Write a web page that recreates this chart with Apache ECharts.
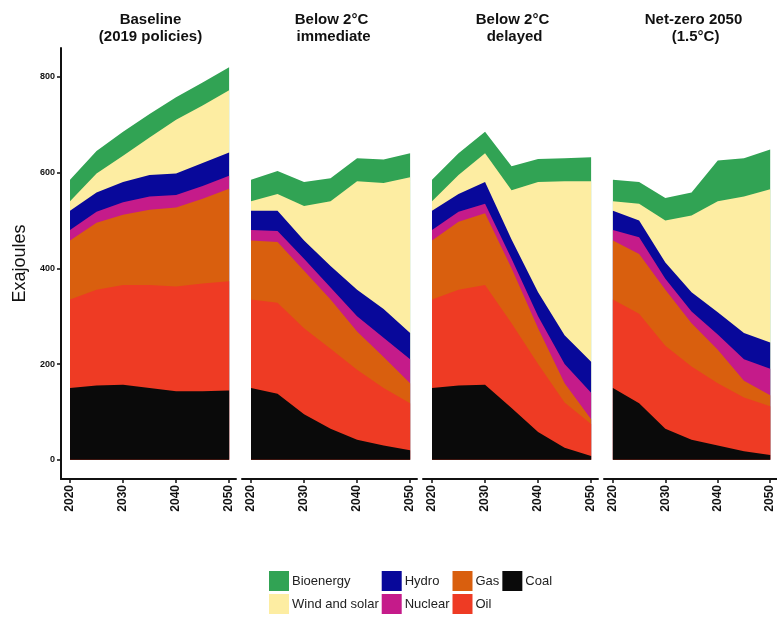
<!DOCTYPE html>
<html>
<head>
<meta charset="utf-8">
<script src="https://cdn.jsdelivr.net/npm/echarts@6/dist/echarts.min.js"></script>
<style>html,body{margin:0;padding:0;background:#fff}#container{width:777px;height:618px}</style>
</head>
<body>
<div id="container"></div>
<script>
var dom = document.getElementById("container");
var myChart = echarts.init(dom);

var years = [2020, 2025, 2030, 2035, 2040, 2045, 2050];
var panelTitles = ["Baseline\n(2019 policies)", "Below 2°C\n immediate", "Below 2°C\n delayed", "Net-zero 2050\n (1.5°C)"];
var sources = ["Coal", "Oil", "Gas", "Nuclear", "Hydro", "Wind and solar", "Bioenergy"];
var colors = ["#0a0a0a", "#ee3b24", "#d95f0e", "#c51b8a", "#08089a", "#fdeda2", "#31a354"];
var legendOrder = ["Bioenergy", "Wind and solar", "Hydro", "Nuclear", "Gas", "Oil", "Coal"];

// values per panel, in order of sources (bottom to top)
var baseline = [
    [150, 155, 157, 150, 143, 143, 145],
    [185, 200, 208, 215, 219, 225, 228],
    [123, 140, 147, 157, 165, 177, 193],
    [22, 23, 26, 28, 26, 27, 27],
    [40, 40, 42, 45, 45, 48, 49],
    [20, 40, 55, 78, 112, 120, 130],
    [45, 47, 50, 49, 47, 48, 48]
];
var immediate = [
    [150, 138, 95, 65, 42, 30, 20],
    [185, 190, 180, 167, 146, 120, 98],
    [123, 127, 120, 103, 80, 65, 42],
    [22, 23, 25, 25, 32, 40, 50],
    [40, 42, 38, 45, 55, 60, 55],
    [20, 35, 72, 135, 227, 263, 325],
    [45, 48, 50, 48, 48, 49, 50]
];
var delayed = [
    [150, 155, 157, 108, 58, 25, 8],
    [185, 200, 208, 177, 142, 95, 67],
    [123, 142, 150, 115, 75, 40, 10],
    [22, 21, 20, 20, 25, 40, 55],
    [40, 37, 45, 40, 50, 60, 65],
    [20, 40, 60, 103, 230, 322, 377],
    [45, 45, 45, 50, 48, 48, 50]
];
var netzero = [
    [150, 118, 65, 42, 30, 18, 10],
    [185, 187, 173, 153, 130, 112, 102],
    [123, 125, 117, 90, 70, 35, 23],
    [22, 35, 23, 25, 32, 45, 55],
    [40, 35, 34, 40, 46, 55, 55],
    [20, 35, 88, 160, 232, 285, 320],
    [45, 45, 47, 48, 85, 80, 83]
];
var panels = [baseline, immediate, delayed, netzero];
var yTicks = [0, 200, 400, 600, 800];
var xTicks = [2020, 2030, 2040, 2050];

var panelLeft = [61, 242, 423, 604];
var panelWidth = 175;

var grids = [], xAxes = [], yAxes = [], series = [], titles = [];
panels.forEach(function (p, i) {
    grids.push({ left: panelLeft[i], top: 48, width: panelWidth, height: 431 });
    titles.push({
        text: panelTitles[i],
        left: panelLeft[i] + panelWidth / 2 - 3,
        top: 6,
        textAlign: "center",
        textStyle: { fontSize: 15, fontWeight: "bold", color: "#111", lineHeight: 17, fontFamily: "Liberation Sans" }
    });
    xAxes.push({
        gridIndex: i,
        type: "value",
        min: 2018.3,
        max: 2051.3,
        splitLine: { show: false },
        axisLine: { onZero: false, lineStyle: { color: "#111", width: 2 } },
        axisTick: { customValues: xTicks, length: 4, lineStyle: { color: "#111", width: 1.5 } },
        axisLabel: {
            customValues: xTicks, rotate: 90, color: "#111", fontWeight: "bold",
            fontSize: 12, fontFamily: "Liberation Sans", margin: 6,
            formatter: function (v) { return String(v); }
        }
    });
    yAxes.push({
        gridIndex: i,
        type: "value",
        min: -40,
        max: 860,
        show: i === 0,
        name: i === 0 ? "Exajoules" : "",
        nameLocation: "middle",
        nameGap: 32,
        nameTextStyle: { fontSize: 18, color: "#111", fontFamily: "Liberation Sans" },
        splitLine: { show: false },
        axisLine: { show: true, onZero: false, lineStyle: { color: "#111", width: 2 } },
        axisTick: { customValues: yTicks, length: 4, lineStyle: { color: "#111", width: 1.5 } },
        axisLabel: { customValues: yTicks, color: "#111", fontWeight: "bold", fontSize: 9, fontFamily: "Liberation Sans", margin: 6 }
    });
    // cumulative tops of each layer, drawn from the top layer down
    var cum = years.map(function () { return 0; });
    var tops = sources.map(function (s, k) {
        cum = cum.map(function (c, j) { return c + p[k][j]; });
        return cum.slice();
    });
    for (var k = sources.length - 1; k >= 0; k--) {
        series.push({
            name: sources[k],
            type: "line",
            xAxisIndex: i,
            yAxisIndex: i,
            showSymbol: false,
            lineStyle: { width: 0 },
            itemStyle: { color: colors[k] },
            areaStyle: { color: colors[k], opacity: 1, origin: 0 },
            data: years.map(function (y, j) { return [y, tops[k][j]]; })
        });
    }
});

var option = {
    animation: false,
    title: titles,
    grid: grids,
    xAxis: xAxes,
    yAxis: yAxes,
    legend: {
        orient: "vertical",
        left: 264,
        top: 566,
        height: 46,
        itemWidth: 20,
        itemHeight: 20,
        itemGap: 3,
        icon: "rect",
        data: legendOrder,
        selectedMode: false,
        textStyle: { fontSize: 13, color: "#222", fontFamily: "Liberation Sans", padding: [0, 0, 0, -2] }
    },
    series: series
};

myChart.setOption(option);
</script>
</body>
</html>
